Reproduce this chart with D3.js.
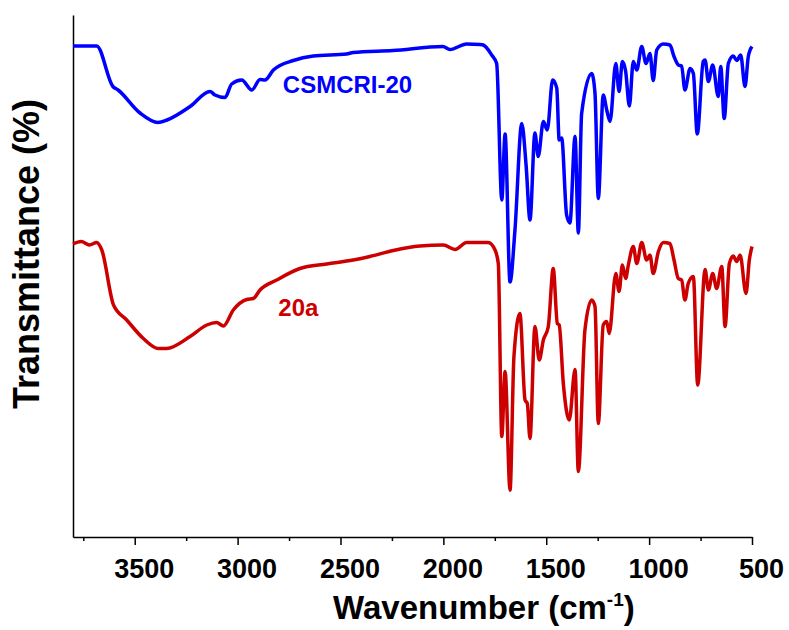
<!DOCTYPE html>
<html>
<head>
<meta charset="utf-8">
<script src="https://cdn.jsdelivr.net/npm/d3@7/dist/d3.min.js"></script>
<style>
  body { margin: 0; background: #fff; }
  text { font-family: "Liberation Sans", Arial, sans-serif; font-weight: bold; }
</style>
</head>
<body>
<script>
//wavenumbers (cm-1) and transmittance
var csmcriWn = [3800, 3685, 3606, 3581, 3474, 3387, 3343, 3231, 3134, 3110, 3061, 3029, 2980, 2931, 2891, 2867, 2826, 2729, 2632, 2470, 2439, 2245, 2002, 1968, 1887, 1822, 1806, 1765, 1741, 1716, 1700, 1676, 1652, 1619, 1598, 1579, 1555, 1539, 1514, 1495, 1469, 1449, 1437, 1425, 1401, 1385, 1360, 1344, 1328, 1279, 1263, 1247, 1223, 1206, 1190, 1162, 1146, 1130, 1114, 1096, 1077, 1060, 1036, 1015, 996, 980, 963, 931, 899, 879, 858, 842, 826, 801, 785, 766, 737, 728, 712, 691, 664, 652, 635, 615, 591, 574, 555, 534, 518, 500];
var csmcriT = [98.8, 98.8, 90.7, 90, 85.4, 83.5, 84, 86.7, 89.7, 89, 88.5, 91.2, 92, 90, 92.1, 92, 94, 95.9, 96.8, 97.2, 97.5, 97.9, 98.7, 98.1, 99.2, 99.1, 99, 97, 95.3, 68, 81.2, 51.6, 62, 83.3, 75, 64, 81.4, 76.7, 83.7, 82, 92, 90.4, 80, 80.4, 65, 63.4, 80.7, 61.4, 85.3, 93.3, 89.3, 68.3, 89, 86, 83.7, 95.3, 89.7, 95.7, 93.7, 86.8, 95.7, 94, 98.7, 95.3, 97.3, 91.9, 98, 99.2, 99, 96.7, 95, 94.8, 90, 94.3, 93.3, 81.2, 95.7, 96, 91.7, 95, 88.7, 94.7, 84.3, 95.3, 96.8, 95.9, 97, 90.7, 96.7, 98.7];

var c20aWn = [3800, 3760, 3720, 3685, 3660, 3603, 3539, 3458, 3385, 3345, 3231, 3150, 3102, 3069, 3021, 2956, 2924, 2891, 2810, 2697, 2567, 2438, 2357, 2243, 2114, 2000, 1943, 1887, 1822, 1782, 1749, 1733, 1716, 1700, 1676, 1657, 1628, 1603, 1592, 1579, 1555, 1534, 1514, 1490, 1466, 1446, 1437, 1417, 1388, 1360, 1344, 1312, 1279, 1263, 1247, 1223, 1206, 1194, 1162, 1146, 1130, 1114, 1101, 1077, 1060, 1036, 1012, 996, 980, 955, 931, 899, 879, 858, 842, 826, 810, 785, 764, 728, 712, 691, 672, 647, 631, 610, 591, 574, 558, 529, 513, 500];
var c20aT = [59.2, 59.7, 59.0, 59.5, 58, 47, 44, 40.3, 38.3, 38.3, 40.7, 43, 43.5, 42.8, 46, 48.1, 48.3, 50, 52, 54.3, 55.2, 56, 56.7, 57.9, 58.8, 59, 58.1, 59.5, 59.5, 59.5, 58, 55.3, 20.7, 33.7, 10, 36.7, 45.3, 28, 27.3, 20.3, 42.7, 36, 40, 42.7, 54.3, 43.3, 43, 31.3, 24, 34.1, 13.7, 42, 48, 46.7, 23.3, 43, 43.7, 41.3, 53.3, 49.7, 55, 52.3, 55, 58.7, 55.3, 59.5, 56, 57, 53.3, 57.7, 59.5, 59.3, 56, 52.3, 52, 48, 51.3, 52.7, 31, 54.1, 50, 53.3, 50.3, 54.7, 42.7, 55.3, 56.8, 55.7, 57, 49.3, 56, 58.7];

var majorTicks = [3500, 3000, 2500, 2000, 1500, 1000, 500];
var minorTicks = [3750, 3250, 2750, 2250, 1750, 1250, 750];

drawChart();

function drawChart(){

    //frame of the plot
    var width = 789,
        height = 630,
        plotLeft = 73,
        plotRight = 752,
        plotTop = 15,
        plotBottom = 537;

    var svg = d3.select("body")
        .append("svg")
        .attr("width", width)
        .attr("height", height);

    var x = d3.scaleLinear()
        .domain([3800, 500])
        .range([plotLeft, plotRight]);

    var y = d3.scaleLinear()
        .domain([0.6, 105])
        .range([plotBottom, plotTop]);

    //minor ticks first, then major ticks with labels
    svg.append("g")
        .attr("transform", "translate(0," + plotBottom + ")")
        .call(d3.axisBottom(x).tickValues(minorTicks).tickSize(4).tickSizeOuter(0).tickFormat(""))
        .call(function(g){ g.select(".domain").remove(); })
        .selectAll("line").attr("stroke-width", 1.5);

    var xAxis = svg.append("g")
        .attr("transform", "translate(0," + plotBottom + ")")
        .call(d3.axisBottom(x).tickValues(majorTicks).tickSize(8).tickSizeOuter(0).tickFormat(d3.format("d")));

    xAxis.select(".domain").attr("stroke-width", 1.5);
    xAxis.selectAll("line").attr("stroke-width", 1.5);
    xAxis.selectAll("text")
        .attr("y", 41)
        .attr("dy", 0)
        .attr("dx", 9)
        .attr("fill", "#000")
        .style("font-size", "27px")
        .style("font-family", "'Liberation Sans', Arial, sans-serif")
        .style("font-weight", "bold");

    var yAxis = svg.append("g")
        .attr("transform", "translate(" + plotLeft + ",0)")
        .call(d3.axisLeft(y).tickValues([]).tickSizeOuter(0));
    yAxis.select(".domain").attr("stroke-width", 1.5);

    //spectra
    var line = d3.line()
        .curve(d3.curveMonotoneX)
        .x(function(d){ return x(d[0]); })
        .y(function(d){ return y(d[1]); });

    var series = [
        {name: "CSMCRI-20", wn: csmcriWn, t: csmcriT, color: "#0000ff"},
        {name: "20a", wn: c20aWn, t: c20aT, color: "#cc0000"}
    ];

    series.forEach(function(s){
        svg.append("path")
            .datum(d3.zip(s.wn, s.t))
            .attr("fill", "none")
            .attr("stroke", s.color)
            .attr("stroke-width", 3.5)
            .attr("stroke-linejoin", "round")
            .attr("d", line);
    });

    //series labels
    svg.append("text")
        .attr("x", x(2780))
        .attr("y", y(89.4))
        .attr("fill", "#0000ff")
        .style("font-size", "24px")
        .text("CSMCRI-20");

    svg.append("text")
        .attr("x", x(2802))
        .attr("y", y(44.8))
        .attr("fill", "#cc0000")
        .style("font-size", "24px")
        .text("20a");

    //axis titles
    var xTitle = svg.append("text")
        .attr("x", 333)
        .attr("y", 619)
        .attr("fill", "#000")
        .style("font-size", "33px");
    xTitle.append("tspan").text("Wavenumber (cm");
    xTitle.append("tspan").attr("dy", -13).style("font-size", "19px").text("-1");
    xTitle.append("tspan").attr("dy", 13).text(")");

    svg.append("text")
        .attr("transform", "translate(39,254) rotate(-90)")
        .attr("text-anchor", "middle")
        .attr("fill", "#000")
        .style("font-size", "36px")
        .text("Transmittance (%)");
}
</script>
</body>
</html>
